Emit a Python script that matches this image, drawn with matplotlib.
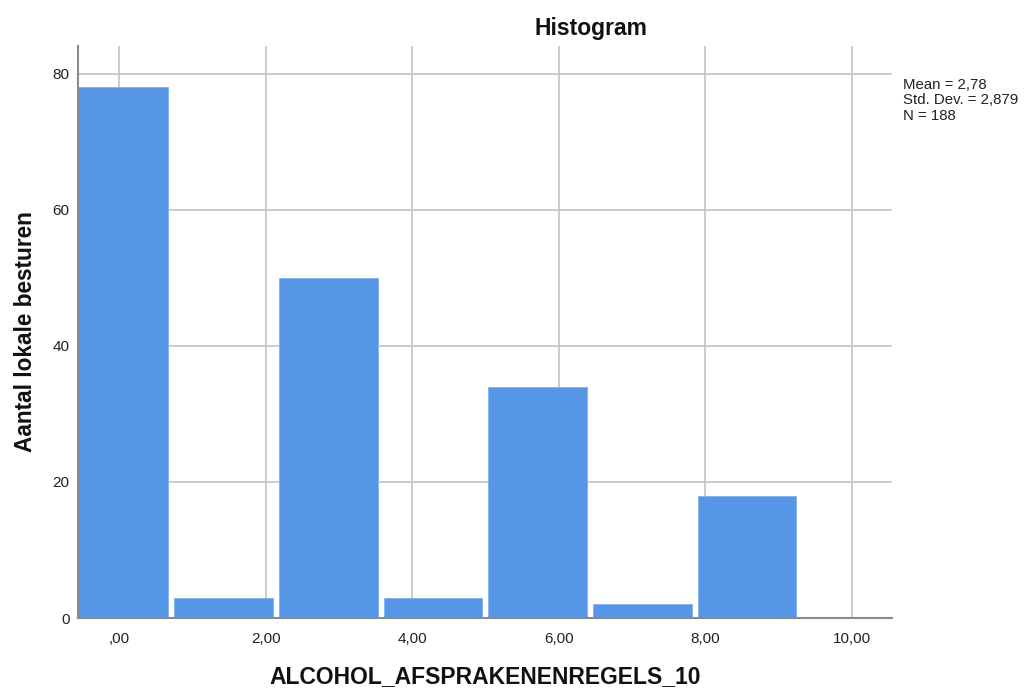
import matplotlib
matplotlib.use("Agg")
import matplotlib.pyplot as plt
import numpy as np

plt.rcParams['font.family'] = ['Liberation Sans', 'DejaVu Sans']

# Histogram bins of ALCOHOL_AFSPRAKENENREGELS_10 (bin width 10/7)
bin_width = 10 / 7
bin_centers = [k * bin_width for k in range(8)]
counts = [78, 3, 50, 3, 34, 2, 18, 0]

x_ticks = [0, 2, 4, 6, 8, 10]
x_tick_labels = [",00", "2,00", "4,00", "6,00", "8,00", "10,00"]
y_ticks = [0, 20, 40, 60, 80]

stats_lines = ["Mean = 2,78", "Std. Dev. = 2,879", "N = 188"]

W, H = 1024, 688
fig = plt.figure(figsize=(W / 100, H / 100), dpi=100)
ax = fig.add_axes([78 / W, 1 - 618 / H, (892 - 78) / W, (618 - 46) / H])

bar_color = "#5596e6"
gap = 6 / 73.3
ax.bar(bin_centers, counts, width=bin_width - gap, color=bar_color,
       edgecolor="#7fb0ee", linewidth=0.6, zorder=3)

ax.set_xlim(-0.56, 10.55)
ax.set_ylim(0, 84.1)

ax.set_xticks(x_ticks)
ax.set_xticklabels(x_tick_labels)
ax.set_yticks(y_ticks)
ax.tick_params(length=0, labelsize=11, colors="#222222", pad=6)
ax.tick_params(axis='x', pad=10)

ax.grid(True, color="#c8c8c8", linewidth=1.3, zorder=0)
ax.set_axisbelow(True)

for s in ["top", "right"]:
    ax.spines[s].set_visible(False)
for s in ["left", "bottom"]:
    ax.spines[s].set_color("#8a8a8a")
    ax.spines[s].set_linewidth(1.5)
    ax.spines[s].set_zorder(4)

ax.set_xlabel("ALCOHOL_AFSPRAKENENREGELS_10", fontsize=16.5, fontweight="bold",
              color="#111111", labelpad=14)
ax.set_ylabel("Aantal lokale besturen", fontsize=16.3, fontweight="bold",
              color="#111111", labelpad=11)

fig.text(591 / W, 1 - 28 / H, "Histogram", fontsize=16.5, fontweight="bold",
         ha="center", va="center", color="#111111")

for i, line in enumerate(stats_lines):
    fig.text(903 / W, 1 - (85 + 15.5 * i) / H, line, fontsize=10.8,
             ha="left", va="center", color="#222222")

fig.savefig("out.png", dpi=100)
